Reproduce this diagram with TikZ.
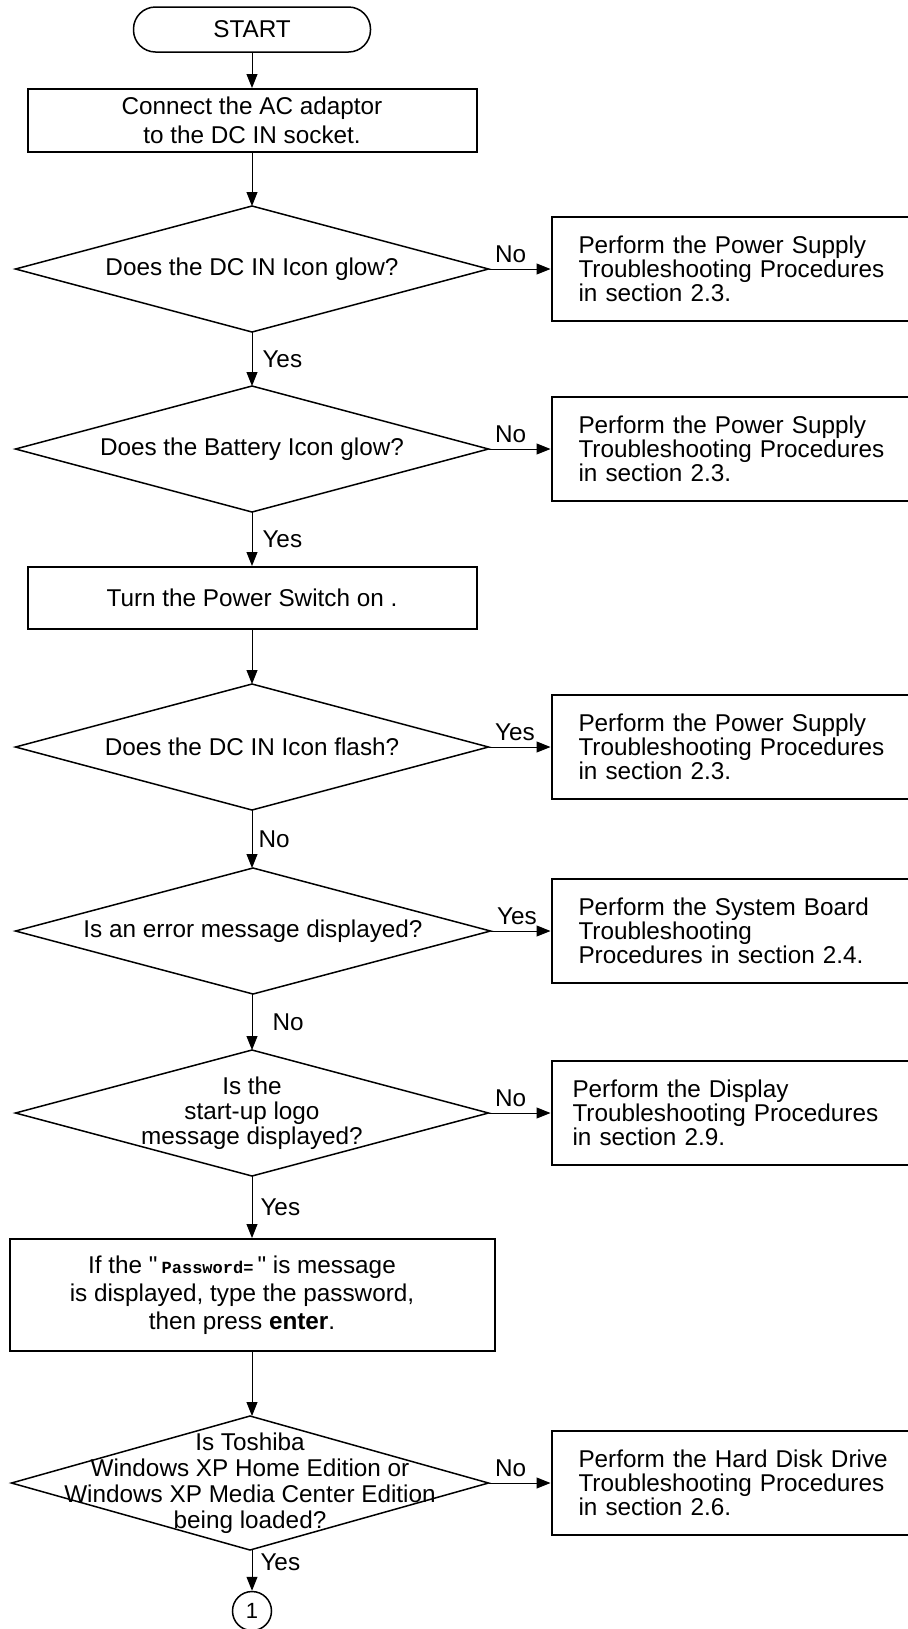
\documentclass[tikz,border=0pt]{standalone}
\usepackage{fontspec}
\setmainfont{Liberation Sans}
\setmonofont{Liberation Mono}
\newfontfamily\plainsans{Liberation Sans}
\usetikzlibrary{shapes.geometric}
\usetikzlibrary{arrows.meta}
\usetikzlibrary{positioning}

\tikzset{
  startbox/.style={draw, line width=.75pt, rounded corners=11pt, minimum width=118.5pt, minimum height=22.5pt},
  pbox/.style={draw, line width=1pt, minimum width=224.5pt, minimum height=31.5pt, align=center},
  dec/.style={diamond, draw, line width=.75pt, minimum width=236.5pt, minimum height=63pt, inner sep=0pt, outer sep=0pt},
  dtext/.style={align=center, inner sep=0pt},
  rbox/.style={draw, line width=1pt, text width=160pt, inner xsep=13.5pt, minimum height=52pt, align=left, font=\fontsize{12.15}{12}\selectfont},
  yn/.style={inner sep=3pt}
}

\begin{document}
\begin{tikzpicture}[x=.5pt, y=-.5pt, line width=.5pt, >={Triangle[length=7pt,width=5.5pt]}, font=\fontsize{12.15}{14.5}\selectfont]
\useasboundingbox (0,0) rectangle (907,1629);

% main column
\node[startbox] (start) at (252,29.5) {START};
\node[pbox] (adaptor) at (252,120.5) {Connect the AC adaptor\\to the DC IN socket.};
\node[dec, label={[dtext]center:Does the DC IN Icon glow?}] (dcglow) at (252,269) {};
\node[dec, label={[dtext]center:Does the Battery Icon glow?}] (battery) at (252,449) {};
\node[pbox, minimum height=31pt] (power) at (252,598) {Turn the Power Switch on .};
\node[dec, label={[dtext]center:Does the DC IN Icon flash?}] (dcflash) at (252,747) {};
\node[dec, minimum width=237.5pt, label={[dtext]center:Is an error message displayed?}] (error) at (253,931) {};
\node[dec, label={[dtext, font=\fontsize{12.15}{12.5}\selectfont]center:Is the\\start-up logo\\message displayed?}] (logo) at (252,1113) {};
\node[pbox, minimum width=242.5pt, minimum height=56pt,
  label={[dtext, xshift=-5pt, font=\fontsize{12.15}{14}\selectfont]center:{If the {\plainsans"}\,{\fontsize{8.5}{10}\selectfont\ttfamily\bfseries Password=}\,{\plainsans"} is message\\is displayed, type the password,\\then press \textbf{enter}.}}] (pwd) at (252,1295) {};
\node[dec, minimum width=238.5pt, minimum height=67pt,
  label={[dtext, font=\fontsize{12.15}{13}\selectfont]center:Is Toshiba\\Windows XP Home Edition or\\Windows XP Media Center Edition\\being loaded?}] (windows) at (250,1483) {};
\node[circle, draw, line width=.75pt, minimum size=19.5pt, inner sep=0pt, font=\fontsize{11}{11}\selectfont] (goto1) at (252,1611) {1};

% right column
\node[rbox, right=31pt of dcglow] (psu1) {Perform the Power Supply\\Troubleshooting Procedures\\in section 2.3.};
\node[rbox, right=31pt of battery] (psu2) {Perform the Power Supply\\Troubleshooting Procedures\\in section 2.3.};
\node[rbox, right=31pt of dcflash] (psu3) {Perform the Power Supply\\Troubleshooting Procedures\\in section 2.3.};
\node[rbox, right=30pt of error] (board) {Perform the System Board\\Troubleshooting\\Procedures in section 2.4.};
\node[rbox, right=31pt of logo, inner xsep=10.5pt, text width=163pt] (display) {Perform the Display\\Troubleshooting Procedures\\in section 2.9.};
\node[rbox, right=31pt of windows] (hdd) {Perform the Hard Disk Drive\\Troubleshooting Procedures\\in section 2.6.};

% connectors
\draw[->] (start) -- (adaptor);
\draw[->] (adaptor) -- (dcglow.north);
\draw[->] (dcglow.south) -- node[yn, right=2pt] {Yes} (battery.north);
\draw[->] (dcglow.east) -- node[yn, pos=0, above right] {No} (psu1.west);
\draw[->] (battery.south) -- node[yn, right=2pt] {Yes} (power.north);
\draw[->] (battery.east) -- node[yn, pos=0, above right] {No} (psu2.west);
\draw[->] (power) -- (dcflash.north);
\draw[->] (dcflash.east) -- node[yn, pos=0, above right] {Yes} (psu3.west);
\draw[->] (dcflash.south) -- node[yn, right=0pt] {No} (dcflash.south |- error.north);
\draw[->] (error.south -| logo.north) -- node[yn, right=7pt] {No} (logo.north);
\draw[->] (error.east) -- node[yn, pos=0, above right] {Yes} (board.west);
\draw[->] (logo.east) -- node[yn, pos=0, above right] {No} (display.west);
\draw[->] (logo.south) -- node[yn, right=1pt] {Yes} (pwd.north);
\draw[->] (pwd.south) -- (pwd.south |- windows.north);
\draw[->] (windows.east) -- node[yn, pos=0, above right] {No} (hdd.west);
\draw[->] (windows.south -| goto1.north) -- node[yn, pos=.3, right=1pt] {Yes} (goto1.north);
\end{tikzpicture}
\end{document}
